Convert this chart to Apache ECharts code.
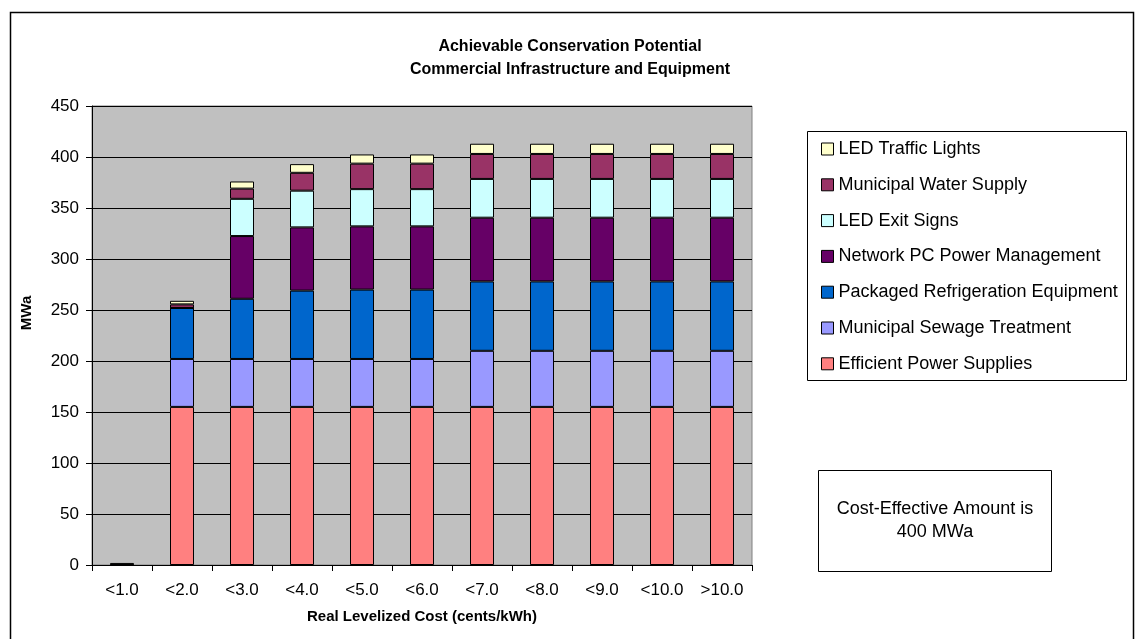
<!DOCTYPE html>
<html>
<head>
<meta charset="utf-8">
<script src="https://cdn.jsdelivr.net/npm/echarts@6/dist/echarts.min.js"></script>
<style>
html,body{margin:0;padding:0;background:#fff;}
#chart{width:1140px;height:639px;}
</style>
</head>
<body>
<div id="chart"></div>
<script>
const categories = ['<1.0','<2.0','<3.0','<4.0','<5.0','<6.0','<7.0','<8.0','<9.0','<10.0','>10.0'];
const efficientPowerSupplies = [0,155,155,155,155,155,155,155,155,155,155];
const municipalSewageTreatment = [0,47,47,47,47,47,55,55,55,55,55];
const packagedRefrigeration = [0,50,59,67,68,68,68,68,68,68,68];
const networkPCPower = [0,0,61.5,62,62,62,62.5,62.5,62.5,62.5,62.5];
const ledExitSigns = [0,0,36.5,36,36.5,36.5,38,38,38,38,38];
const municipalWaterSupply = [0,3.5,10,17.5,25,25,24.5,24.5,24.5,24.5,24.5];
const ledTrafficLights = [2,3.5,7,8.5,9,9,10,10,10,10,10];
const yTicks = [0,50,100,150,200,250,300,350,400,450];

const seriesDefs = [
  ['Efficient Power Supplies', efficientPowerSupplies, '#FF8080'],
  ['Municipal Sewage Treatment', municipalSewageTreatment, '#9999FF'],
  ['Packaged Refrigeration Equipment', packagedRefrigeration, '#0066CC'],
  ['Network PC Power Management', networkPCPower, '#660066'],
  ['LED Exit Signs', ledExitSigns, '#CCFFFF'],
  ['Municipal Water Supply', municipalWaterSupply, '#993366'],
  ['LED Traffic Lights', ledTrafficLights, '#FFFFCC']
];

const FONT = 'Arial, "Liberation Sans", sans-serif';
const chart = echarts.init(document.getElementById('chart'), null, {renderer:'canvas'});
chart.setOption({
  backgroundColor:'#fff',
  animation:false,
  textStyle:{fontFamily:FONT, color:'#000'},
  title:{
    text:'Achievable Conservation Potential\nCommercial Infrastructure and Equipment',
    left:565, textAlign:'center', top:30,
    textStyle:{fontFamily:FONT, fontSize:16, fontWeight:'bold', color:'#000', lineHeight:23}
  },
  grid:{left:92, top:106, right:388, bottom:74, show:true, backgroundColor:'#C0C0C0', borderColor:'#808080', borderWidth:1, containLabel:false},
  legend:{
    orient:'vertical', left:816, top:135, itemWidth:12, itemHeight:12, itemGap:17.8,
    icon:'rect',
    data:seriesDefs.map(d=>d[0]).reverse(),
    textStyle:{fontFamily:FONT, fontSize:18, color:'#000', lineHeight:18},
    itemStyle:{borderColor:'#000', borderWidth:1}
  },
  xAxis:{
    type:'category', data:categories,
    axisLine:{lineStyle:{color:'#000', width:1}},
    axisTick:{show:true, length:6, lineStyle:{color:'#000'}},
    axisLabel:{fontSize:17, color:'#000', margin:17, fontFamily:FONT},
    name:'Real Levelized Cost (cents/kWh)', nameLocation:'middle', nameGap:44,
    nameTextStyle:{fontSize:15, fontWeight:'bold', color:'#000', fontFamily:FONT}
  },
  yAxis:{
    type:'value', min:yTicks[0], max:yTicks[yTicks.length-1], interval:50,
    axisLine:{show:true, lineStyle:{color:'#000', width:1}},
    axisTick:{show:true, length:6, inside:false, lineStyle:{color:'#000'}},
    axisLabel:{fontSize:17, color:'#000', margin:13, fontFamily:FONT},
    splitLine:{lineStyle:{color:'#000', width:1}}
  },
  series:seriesDefs.map(d=>({
    name:d[0], type:'bar', stack:'total', data:d[1], barWidth:24,
    itemStyle:{color:d[2], borderColor:'#000', borderWidth:1},
    emphasis:{disabled:true}
  })),
  graphic:[
    {type:'rect', shape:{x:10.5, y:12.5, width:1123, height:640}, style:{fill:'none', stroke:'#000', lineWidth:1.5}, silent:true},
    {type:'rect', shape:{x:807.5, y:131.5, width:319, height:249}, style:{fill:'none', stroke:'#000', lineWidth:1}, silent:true, z:-1},
    {type:'rect', shape:{x:818.5, y:470.5, width:233, height:101}, style:{fill:'#fff', stroke:'#000', lineWidth:1}, silent:true},
    {type:'text', x:935, y:521, style:{text:'Cost-Effective Amount is\n400 MWa', fill:'#000', font:'18px Arial, "Liberation Sans", sans-serif', align:'center', verticalAlign:'middle', lineHeight:23}, silent:true},
    {type:'text', x:27, y:313, rotation:Math.PI/2, style:{text:'MWa', fill:'#000', font:'bold 15px Arial, "Liberation Sans", sans-serif', align:'center', verticalAlign:'middle'}, silent:true}
  ]
});
</script>
</body>
</html>
